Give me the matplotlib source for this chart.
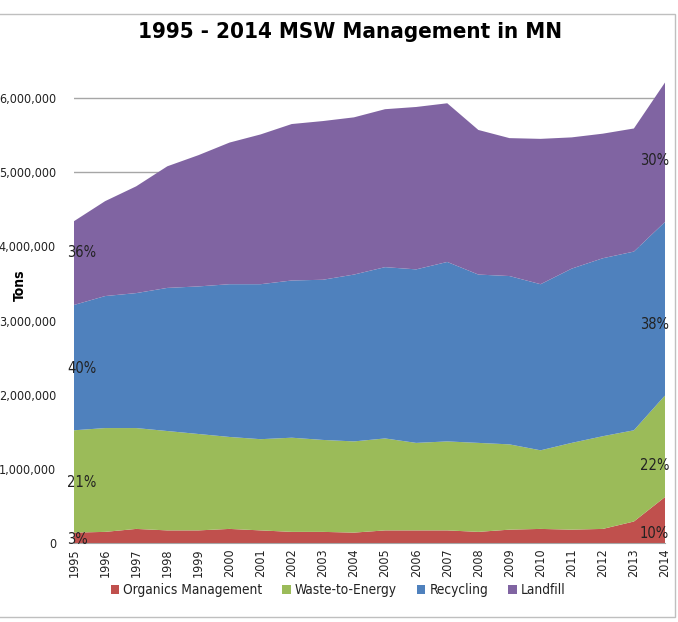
import matplotlib.pyplot as plt
from matplotlib.patches import Rectangle, Patch
from matplotlib.ticker import FuncFormatter

# dados (toneladas)
anos = list(range(1995, 2015))
organicos = [140000, 150000, 190000, 170000, 170000, 190000, 170000, 150000, 150000, 140000,
             170000, 170000, 170000, 150000, 180000, 190000, 180000, 190000, 290000, 620000]
energia = [1380000, 1400000, 1360000, 1340000, 1300000, 1240000, 1230000, 1270000, 1240000, 1230000,
           1240000, 1180000, 1200000, 1200000, 1150000, 1060000, 1170000, 1250000, 1230000, 1370000]
reciclagem = [1690000, 1780000, 1820000, 1930000, 1990000, 2060000, 2090000, 2120000, 2160000, 2250000,
              2310000, 2340000, 2420000, 2270000, 2270000, 2240000, 2350000, 2400000, 2410000, 2340000]
aterro = [1130000, 1280000, 1440000, 1640000, 1770000, 1910000, 2020000, 2110000, 2140000, 2120000,
          2130000, 2190000, 2140000, 1950000, 1860000, 1960000, 1770000, 1680000, 1660000, 1880000]

nomes = ['Organics Management', 'Waste-to-Energy', 'Recycling', 'Landfill']
cores = ['#C0504D', '#9BBB59', '#4F81BD', '#8064A2']

# rótulos de porcentagem (1995 e 2014)
rot_1995 = ['3%', '21%', '40%', '36%']
y_rot_1995 = [50000, 820000, 2350000, 3920000]
rot_2014 = ['10%', '22%', '38%', '30%']
y_rot_2014 = [130000, 1040000, 2940000, 5160000]

COND = 'condensed'

fig = plt.figure(figsize=(6.78, 6.22), dpi=100)
ax = fig.add_axes([74/678, 79/622, 591/678, 482/622])

ax.stackplot(anos, organicos, energia, reciclagem, aterro, colors=cores, labels=nomes, zorder=2)

ax.set_xlim(1995, 2014)
ax.set_ylim(0, 6500000)
ax.set_yticks(range(0, 7000000, 1000000))
ax.yaxis.set_major_formatter(FuncFormatter(lambda v, p: f'{int(v):,}'))
ax.set_xticks(anos)
ax.set_xticklabels([str(a) for a in anos], rotation=90)
ax.grid(axis='y', color='#A6A6A6', lw=1, zorder=0)
ax.set_axisbelow(True)
for lado in ['top', 'right', 'left']:
    ax.spines[lado].set_visible(False)
ax.spines['bottom'].set_color('#A6A6A6')
ax.tick_params(axis='y', length=0, pad=13, labelsize=9, labelcolor='#222222')
ax.tick_params(axis='x', length=0, pad=4, labelsize=9, labelcolor='#222222')
for t in ax.get_xticklabels() + ax.get_yticklabels():
    t.set_fontstretch(COND)

for txt, y in zip(rot_1995, y_rot_1995):
    ax.annotate(txt, (1995, y), xytext=(-5, 0), textcoords='offset points', fontstretch=COND,
                fontsize=10.5, ha='left', va='center', zorder=3, color='#222222')
for txt, y in zip(rot_2014, y_rot_2014):
    ax.annotate(txt, (2014, y), xytext=(3, 0), textcoords='offset points', fontstretch=COND,
                fontsize=10.5, ha='right', va='center', zorder=3, color='#222222',
                annotation_clip=False)

fig.text(350/678, 1 - 32/622, '1995 - 2014 MSW Management in MN', ha='center', va='center',
         fontsize=16, fontweight='bold', fontstretch=COND)
fig.text(20/678, 1 - 285/622, 'Tons', rotation=90, ha='center', va='center',
         fontsize=10, fontweight='bold', fontstretch=COND)

handles = [Patch(facecolor=c, label=n) for c, n in zip(cores, nomes)]
leg = fig.legend(handles=handles, loc='center', bbox_to_anchor=(338/678, 1 - 590/622), ncol=4,
                 frameon=False, fontsize=9.8, handlelength=0.6, handleheight=0.6,
                 handletextpad=0.3, columnspacing=1.5)
for t in leg.get_texts():
    t.set_fontstretch(COND)
    t.set_color('#222222')

# moldura do gráfico
fig.patches.append(Rectangle((-0.01, 5/622), 675/678 + 0.01, 603/622, transform=fig.transFigure,
                             fill=False, edgecolor='#BFBFBF', lw=1))

plt.savefig('out.png', dpi=100)
